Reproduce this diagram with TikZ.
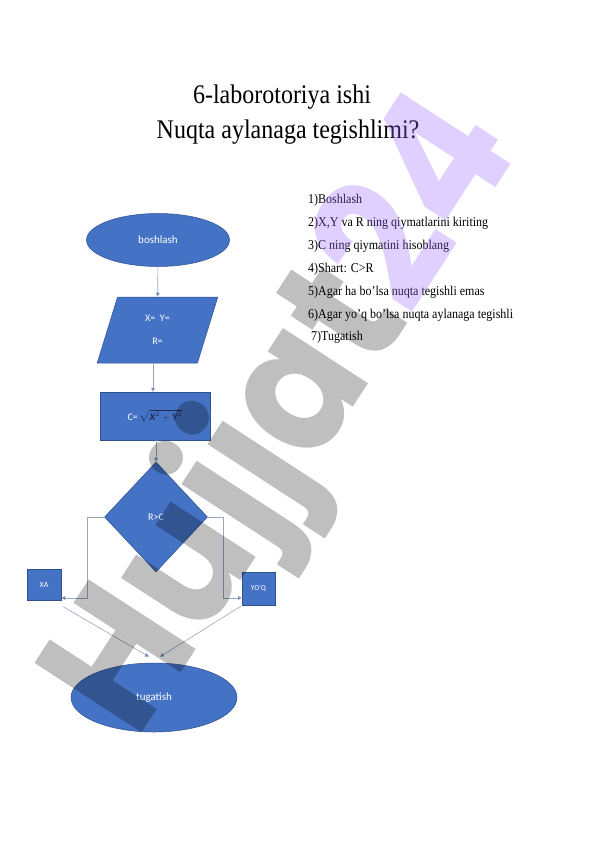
\documentclass[tikz,border=0pt]{standalone}
\usepackage{fontspec}
\setmainfont{Liberation Serif}
\newfontfamily\calibri{Carlito}
\newfontfamily\wmfont{Poppins}
\usetikzlibrary{shapes.geometric,arrows.meta}
\definecolor{fillblue}{HTML}{4472C4}
\definecolor{edgeblue}{HTML}{2F528F}
\definecolor{linecol}{HTML}{9AA5BF}
\definecolor{formula}{HTML}{1F2A50}
\definecolor{wmviolet}{HTML}{9966FF}
\newcommand{\bi}[1]{\textbf{\textit{#1}}}
\tikzset{
  shapebox/.style={fill=fillblue, draw=edgeblue, line width=0.5pt, text=white, font=\calibri\fontsize{11}{13}\selectfont, inner sep=0pt},
  conn/.style={draw=linecol, line width=0.6pt},
  arr/.style={conn, -{Triangle[length=4pt,width=4pt,fill=fillblue]}},
  titletext/.style={font=\fontsize{24}{28}\selectfont, anchor=base},
  listtext/.style={font=\fontsize{12}{14}\selectfont, anchor=base west, inner sep=0pt},
  wmark/.style={rotate=57, anchor=base west, inner sep=0pt, font=\wmfont\bfseries\fontsize{182}{182}\selectfont},
}
\begin{document}
\begin{tikzpicture}[x=1pt,y=-1pt]
\useasboundingbox (0,0) rectangle (596,842);
\fill[white] (0,0) rectangle (596,842);

% titles
\node[titletext] (t1) at (282,104) {\scalebox{1}[1.12]{6-laborotoriya ishi}};
\node[titletext] (t2) at (288,139) {\scalebox{1}[1.12]{Nuqta aylanaga tegishlimi?}};

% list
\node[listtext] (l1) at (308,204) {\scalebox{1}[1.12]{1)Boshlash}};
\node[listtext] (l2) at (308,226.8) {\scalebox{1}[1.12]{2)X,Y va R ning qiymatlarini kiriting}};
\node[listtext] (l3) at (308,249.6) {\scalebox{1}[1.12]{3)C ning qiymatini hisoblang}};
\node[listtext] (l4) at (308,272.4) {\scalebox{1}[1.12]{4)Shart: C>R}};
\node[listtext] (l5) at (308,295.2) {\scalebox{1}[1.12]{5)Agar ha bo’lsa nuqta tegishli emas}};
\node[listtext] (l6) at (308,318) {\scalebox{1}[1.12]{6)Agar yo’q bo’lsa nuqta aylanaga tegishli}};
\node[listtext] (l7) at (311,340.8) {\scalebox{1}[1.12]{7)Tugatish}};

% flowchart
\node[shapebox, ellipse, minimum width=143pt, minimum height=53pt] (start) at (158,240) {boshlash};
\node[shapebox, trapezium, trapezium left angle=78, trapezium right angle=102, trapezium stretches=true, minimum width=121pt, minimum height=66pt, align=center, font=\calibri\fontsize{10}{23}\selectfont] (inp) at (157.5,330) {X=\ \ Y=\\R=};
\node[shapebox, rectangle, minimum width=110pt, minimum height=48pt, font=\calibri\fontsize{10}{12}\selectfont] (calc) at (155,416) {C=\,{\color{formula}$\sqrt{\bi{X}^2+\bi{Y}^2}$}};
\node[shapebox, diamond, minimum width=103pt, minimum height=110pt, font=\calibri\fontsize{10}{12}\selectfont] (dec) at (156,517) {R>C};
\node[shapebox, rectangle, minimum width=34pt, minimum height=31pt, font=\calibri\fontsize{8}{10}\selectfont] (xa) at (44,585) {XA};
\node[shapebox, rectangle, minimum width=33pt, minimum height=33pt, font=\calibri\fontsize{7.5}{9}\selectfont] (yoq) at (258.5,588.5) {YO'Q};
\node[shapebox, ellipse, minimum width=166pt, minimum height=69pt] (end) at (154,697.5) {tugatish};

\draw[arr] (start) -- (inp);
\draw[arr] ([xshift=-4.5pt]inp.south) -- ([xshift=-4.5pt]inp.south |- calc.north);
\draw[arr] (calc.south -| dec.north) -- (dec.north);
\coordinate (lc) at (87,598);
\coordinate (rc) at (223,598);
\draw[arr] (dec.west) -| (lc) -- (lc -| xa.east);
\draw[arr] (dec.east) -| (rc) -- (rc -| yoq.west);
\draw[arr] ([shift={(2,6)}]xa.south east) -- ([shift={(-5,-6)}]end.north);
\draw[arr] ([shift={(-1,1)}]yoq.south west) -- ([shift={(6,-6)}]end.north);

% watermark
\node[wmark, text=black, text opacity=0.25] (wm1) at (136,742) {\scalebox{0.9}[1]{Hujjat}};
\node[wmark, text=wmviolet, text opacity=0.3] (wm2) at (wm1.base east) {\scalebox{0.9}[1]{24}};
\end{tikzpicture}
\end{document}
